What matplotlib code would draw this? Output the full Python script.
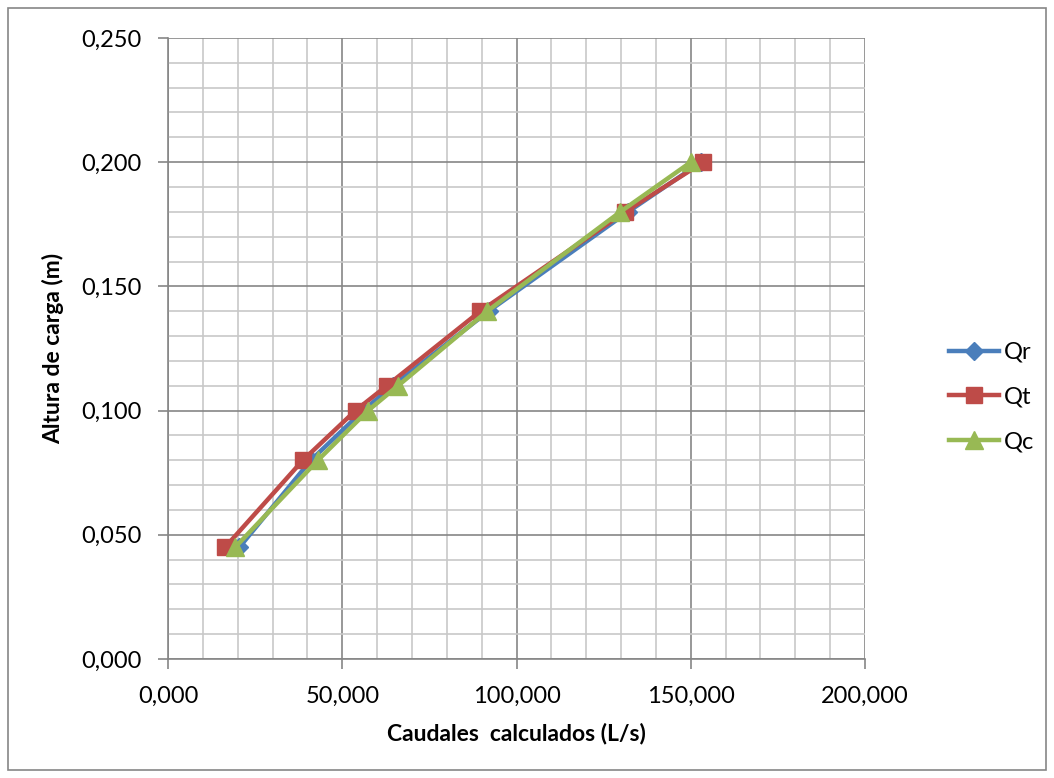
import matplotlib.pyplot as plt
from matplotlib.patches import Rectangle
from matplotlib.ticker import MultipleLocator, FuncFormatter

plt.rcParams['font.family'] = ['Lato', 'DejaVu Sans']

# altura de carga (m) y caudales (L/s)
altura = [0.045, 0.080, 0.100, 0.110, 0.140, 0.180, 0.200]
qr = [20500, 41000, 56000, 64500, 92000, 132000, 153000]
qt = [16400, 38700, 53800, 62800, 89600, 131200, 153600]
qc = [19300, 43000, 57400, 66000, 91600, 129800, 150000]

series = [
    ('Qr', qr, '#4a7ebb', 'D', 9),
    ('Qt', qt, '#be4b48', 's', 12),
    ('Qc', qc, '#98b954', '^', 13),
]

fig = plt.figure(figsize=(10.54, 7.78), dpi=100)
ax = fig.add_axes([0.1594, 0.153, 0.6613, 0.7982])

for name, q, color, marker, ms in series:
    ax.plot(q, altura, color=color, lw=3.2, marker=marker, ms=ms,
            mec=color, mfc=color, label=name, zorder=3)

ax.set_xlim(0, 200000)
ax.set_ylim(0, 0.25)
ax.xaxis.set_major_locator(MultipleLocator(50000))
ax.xaxis.set_minor_locator(MultipleLocator(10000))
ax.yaxis.set_major_locator(MultipleLocator(0.05))
ax.yaxis.set_minor_locator(MultipleLocator(0.01))

# formato con coma decimal
ax.xaxis.set_major_formatter(FuncFormatter(lambda v, p: ('%.3f' % (v / 1000)).replace('.', ',')))
ax.yaxis.set_major_formatter(FuncFormatter(lambda v, p: ('%.3f' % v).replace('.', ',')))

ax.grid(which='major', color='#868686', lw=1.2, zorder=0)
ax.grid(which='minor', color='#c8c8c8', lw=1.2, zorder=0)
ax.set_axisbelow(True)
for s in ['top', 'right']:
    ax.spines[s].set_visible(False)
for s in ['left', 'bottom']:
    ax.spines[s].set_color('#868686')
    ax.spines[s].set_linewidth(1.2)
ax.tick_params(which='major', direction='out', length=7, width=1.2, color='#868686',
               labelsize=17, pad=12)
ax.tick_params(which='minor', length=0)

ax.set_xlabel('Caudales  calculados (L/s)', fontsize=16.5, fontweight='bold', labelpad=12)
ax.set_ylabel('Altura de carga (m)', fontsize=16.5, fontweight='bold', labelpad=12)

ax.legend(loc='center left', bbox_to_anchor=(1.094, 0.422), frameon=False, fontsize=17,
          handlelength=2.1, labelspacing=1.0, handletextpad=0.2, borderpad=0.3)

# borde del area del grafico
fig.patches.append(Rectangle((8 / 1054, 8 / 778), 1038 / 1054, 762 / 778,
                             transform=fig.transFigure, fill=False,
                             edgecolor='#868686', lw=1.2))

fig.savefig('out.png', dpi=100)
